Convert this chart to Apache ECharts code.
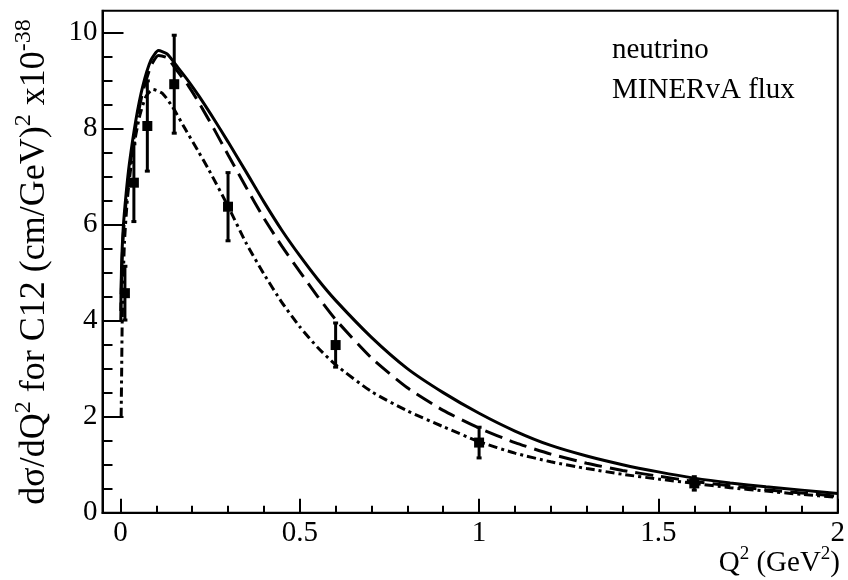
<!DOCTYPE html>
<html>
<head>
<meta charset="utf-8">
<script src="https://cdn.jsdelivr.net/npm/echarts@6/dist/echarts.min.js"></script>
<style>
html, body { margin: 0; padding: 0; background: #fff; }
#chart { width: 848px; height: 580px; }
</style>
</head>
<body>
<div id="chart"></div>
<script>
// Model curves: Q^2 (GeV^2) and dsigma/dQ^2 (1e-38 cm^2/GeV^2)
const q2Solid = [0.001, 0.003, 0.008, 0.016, 0.025, 0.043, 0.062, 0.085, 0.106, 0.13, 0.16, 0.19, 0.22, 0.26, 0.3, 0.35, 0.4, 0.45, 0.5, 0.55, 0.6, 0.7, 0.8, 0.9, 1.0, 1.1, 1.2, 1.3, 1.4, 1.5, 1.6, 1.7, 1.8, 1.9, 2.0];
const xsSolid = [4.2, 5.1, 5.95, 6.65, 7.27, 8.17, 8.87, 9.42, 9.62, 9.55, 9.27, 8.98, 8.66, 8.2, 7.72, 7.1, 6.47, 5.88, 5.35, 4.86, 4.42, 3.65, 3.0, 2.5, 2.07, 1.7, 1.4, 1.18, 1.0, 0.85, 0.72, 0.62, 0.54, 0.47, 0.4];

const q2Dashed = [0.001, 0.003, 0.008, 0.016, 0.025, 0.043, 0.062, 0.085, 0.106, 0.13, 0.16, 0.19, 0.22, 0.26, 0.3, 0.35, 0.4, 0.45, 0.5, 0.55, 0.6, 0.7, 0.8, 0.9, 1.0, 1.1, 1.2, 1.3, 1.4, 1.5, 1.6, 1.7, 1.8, 1.9, 2.0];
const xsDashed = [4.0, 4.9, 5.8, 6.5, 7.15, 8.05, 8.75, 9.3, 9.52, 9.47, 9.18, 8.88, 8.52, 8.0, 7.45, 6.78, 6.13, 5.55, 5.02, 4.5, 4.02, 3.22, 2.6, 2.13, 1.76, 1.46, 1.22, 1.03, 0.88, 0.76, 0.65, 0.56, 0.48, 0.41, 0.34];

const q2DashDot = [0.002, 0.0035, 0.005, 0.011, 0.02, 0.034, 0.053, 0.071, 0.09, 0.117, 0.145, 0.182, 0.215, 0.247, 0.3, 0.35, 0.4, 0.45, 0.5, 0.55, 0.6, 0.7, 0.8, 0.9, 1.0, 1.1, 1.2, 1.3, 1.4, 1.5, 1.6, 1.7, 1.8, 1.9, 2.0];
const xsDashDot = [2.0, 3.0, 4.0, 5.6, 6.58, 7.48, 8.24, 8.66, 8.81, 8.73, 8.45, 7.97, 7.55, 7.13, 6.38, 5.62, 4.97, 4.38, 3.87, 3.44, 3.08, 2.52, 2.12, 1.79, 1.48, 1.24, 1.06, 0.92, 0.8, 0.7, 0.61, 0.52, 0.45, 0.38, 0.32];

// MINERvA measurement: bin centres, values, errors
const q2Data = [0.0125, 0.0375, 0.075, 0.15, 0.3, 0.6, 1.0, 1.6];
const xsData = [4.57, 6.87, 8.05, 8.92, 6.37, 3.49, 1.46, 0.61];
const errData = [0.57, 0.82, 0.95, 1.03, 0.72, 0.47, 0.33, 0.15];

// Axis tick values
const xMajorTicks = [0, 0.5, 1, 1.5, 2];
const xMinorTicks = [0.1, 0.2, 0.3, 0.4, 0.6, 0.7, 0.8, 0.9, 1.1, 1.2, 1.3, 1.4, 1.6, 1.7, 1.8, 1.9];
const yMajorTicks = [0, 2, 4, 6, 8, 10];
const yMinorTicks = [0.5, 1, 1.5, 2.5, 3, 3.5, 4.5, 5, 5.5, 6.5, 7, 7.5, 8.5, 9, 9.5, 10.5];

const zip = (xs, ys) => xs.map((x, i) => [x, ys[i]]);

const FONT = 'Liberation Serif';
const chart = echarts.init(document.getElementById('chart'), null, { renderer: 'canvas' });

const xBase = { type: 'value', min: -0.05, max: 2, gridIndex: 0, splitLine: { show: false } };
const yBase = { type: 'value', min: 0, max: 10.45, gridIndex: 0, splitLine: { show: false } };

chart.setOption({
  animation: false,
  backgroundColor: '#fff',
  grid: { left: 102.5, right: 4.7, top: 10.7, bottom: 67.3, show: true, borderColor: '#000', borderWidth: 2, backgroundColor: 'transparent' },
  xAxis: [
    Object.assign({}, xBase, {
      axisLine: { show: true, onZero: false, lineStyle: { color: '#000', width: 2 } },
      axisTick: { show: true, inside: true, length: 14, customValues: xMajorTicks, lineStyle: { color: '#000', width: 2 } },
      axisLabel: { show: true, customValues: xMajorTicks, margin: 6, color: '#000', fontFamily: FONT, fontSize: 29 }
    }),
    Object.assign({}, xBase, {
      position: 'bottom',
      axisLine: { show: false, onZero: false },
      axisTick: { show: true, inside: true, length: 7, customValues: xMinorTicks, lineStyle: { color: '#000', width: 2 } },
      axisLabel: { show: false }
    })
  ],
  yAxis: [
    Object.assign({}, yBase, {
      axisLine: { show: true, onZero: false, lineStyle: { color: '#000', width: 2 } },
      axisTick: { show: true, inside: true, length: 21, customValues: yMajorTicks, lineStyle: { color: '#000', width: 2 } },
      axisLabel: { show: true, customValues: yMajorTicks, margin: 5, color: '#000', fontFamily: FONT, fontSize: 29 }
    }),
    Object.assign({}, yBase, {
      position: 'left',
      axisLine: { show: false, onZero: false },
      axisTick: { show: true, inside: true, length: 10, customValues: yMinorTicks, lineStyle: { color: '#000', width: 2 } },
      axisLabel: { show: false }
    })
  ],
  series: [
    {
      type: 'custom',
      name: 'MINERvA',
      xAxisIndex: 0, yAxisIndex: 0,
      data: q2Data.map((q, i) => [q, xsData[i], errData[i]]),
      renderItem: function (params, api) {
        const x = api.value(0), y = api.value(1), e = api.value(2);
        const c = api.coord([x, y]);
        const lo = api.coord([x, y - e]);
        const hi = api.coord([x, y + e]);
        return {
          type: 'group',
          children: [
            { type: 'line', shape: { x1: c[0], y1: lo[1], x2: c[0], y2: hi[1] }, style: { stroke: '#000', lineWidth: 3 } },
            { type: 'rect', shape: { x: c[0] - 2.5, y: hi[1] - 1, width: 5, height: 3 }, style: { fill: '#000' } },
            { type: 'rect', shape: { x: c[0] - 2.5, y: lo[1] - 2, width: 5, height: 3 }, style: { fill: '#000' } },
            { type: 'rect', shape: { x: c[0] - 5, y: c[1] - 5, width: 10, height: 10 }, style: { fill: '#000' } }
          ]
        };
      },
      z: 3
    },
    {
      type: 'line', name: 'solid', data: zip(q2Solid, xsSolid), showSymbol: false,
      smooth: 0.2,
      lineStyle: { color: '#000', width: 3, type: 'solid' }, z: 4
    },
    {
      type: 'line', name: 'dashed', data: zip(q2Dashed, xsDashed), showSymbol: false,
      smooth: 0.2,
      lineStyle: { color: '#000', width: 3, type: [18, 8] }, z: 4
    },
    {
      type: 'line', name: 'dashdot', data: zip(q2DashDot, xsDashDot), showSymbol: false,
      smooth: 0.2,
      lineStyle: { color: '#000', width: 3, type: [9, 4, 3, 4] }, z: 4
    }
  ],
  graphic: [
    {
      type: 'text', left: 612, top: 36,
      style: { text: 'neutrino', fill: '#000', font: '29px "Liberation Serif"' }
    },
    {
      type: 'text', left: 612, top: 76,
      style: { text: 'MINERvA flux', fill: '#000', font: '29px "Liberation Serif"' }
    },
    {
      type: 'text', right: 8, top: 545,
      style: {
        text: '{b|Q}{s|2}{b| (GeV}{s|2}{b|)}',
        fill: '#000',
        rich: {
          b: { fontFamily: FONT, fontSize: 29, verticalAlign: 'bottom', lineHeight: 30 },
          s: { fontFamily: FONT, fontSize: 19, verticalAlign: 'bottom', lineHeight: 19, padding: [0, 0, 14, 0] }
        }
      }
    },
    {
      type: 'text', x: 17, y: 262, rotation: Math.PI / 2,
      style: {
        text: '{b|dσ/dQ}{s|2}{b| for C12 (cm/GeV)}{s|2}{b| x10}{s|-38}',
        fill: '#000',
        align: 'center', verticalAlign: 'top',
        rich: {
          b: { fontFamily: FONT, fontSize: 36, verticalAlign: 'bottom', lineHeight: 36 },
          s: { fontFamily: FONT, fontSize: 24, verticalAlign: 'bottom', lineHeight: 24, padding: [0, 0, 17, 0] }
        }
      }
    }
  ]
});
</script>
</body>
</html>
